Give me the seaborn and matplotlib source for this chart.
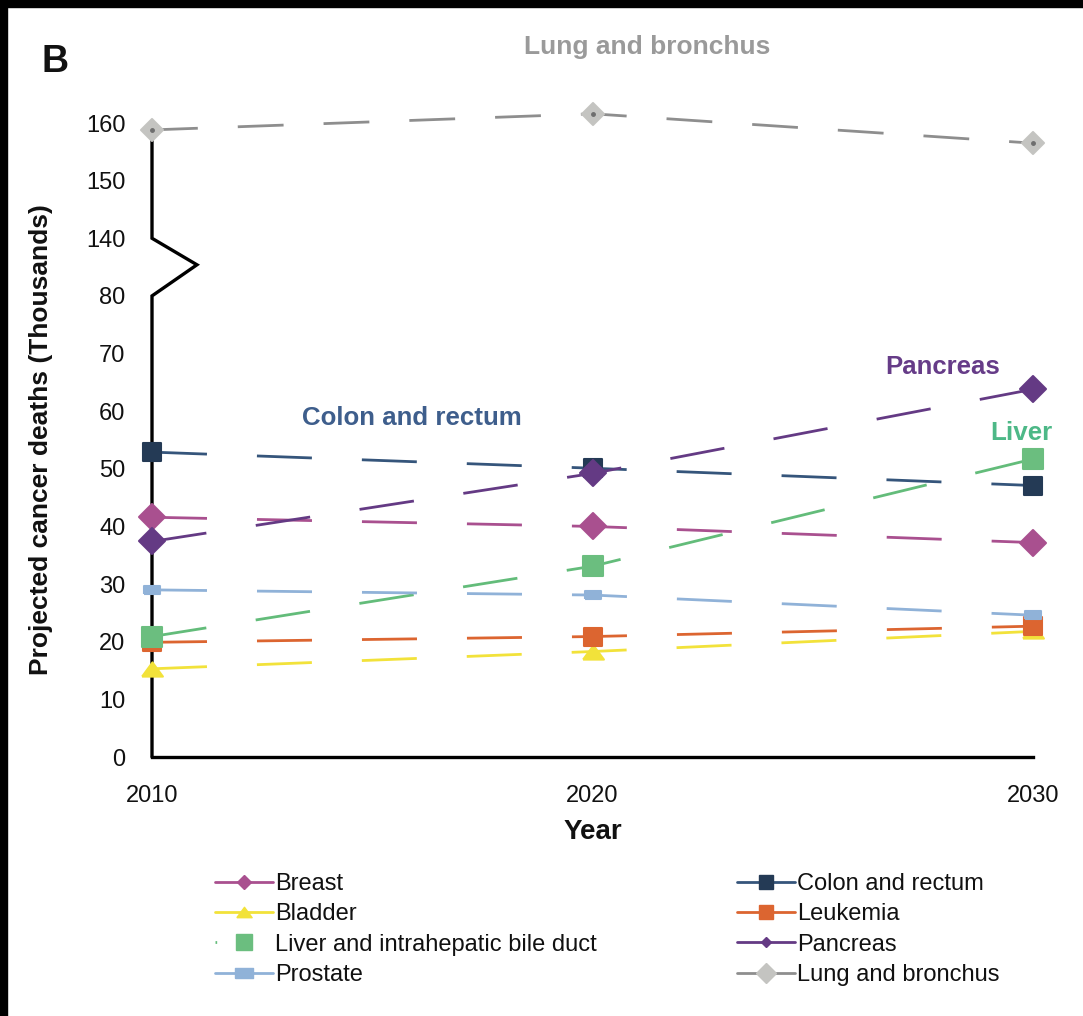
import numpy as np
import pandas as pd
import matplotlib
matplotlib.use("Agg")
import matplotlib.pyplot as plt
import seaborn as sns
from matplotlib.lines import Line2D
from matplotlib.markers import MarkerStyle
from matplotlib.patches import Rectangle
from matplotlib.ticker import FixedLocator, FixedFormatter, NullLocator

# Projected cancer deaths (thousands) by year
years = [2010, 2020, 2030]
breast = [41.6, 40.0, 37.2]
colon = [52.9, 50.1, 47.1]
bladder = [15.3, 18.3, 21.8]
leukemia = [19.9, 20.9, 22.7]
liver = [20.9, 33.1, 51.7]
pancreas = [37.4, 49.2, 63.8]
prostate = [29.0, 28.1, 24.6]
lung = [158.8, 161.6, 156.5]

sites = ["Breast", "Colon and rectum", "Bladder", "Leukemia",
         "Liver and intrahepatic bile duct", "Pancreas", "Prostate",
         "Lung and bronchus"]
values = [breast, colon, bladder, leukemia, liver, pancreas, prostate, lung]

y_ticks = [0, 10, 20, 30, 40, 50, 60, 70, 80, 140, 150, 160]
x_ticks = [2010, 2020, 2030]

sns.set_style("white")
plt.rcParams["font.family"] = ["Liberation Sans", "DejaVu Sans"]
plt.rcParams["lines.scale_dashes"] = False

W, H = 1083, 1016
fig = plt.figure(figsize=(W / 100, H / 100), dpi=100, facecolor="white")


def fx(px):
    return px / W


def fy(py):
    return 1 - py / H


ax = fig.add_axes([fx(152), fy(757), fx(1033) - fx(152), fy(123) - fy(757)])
ax.set_facecolor("none")


# broken y axis: 80..140 squeezed into one tick step
def fwd(v):
    v = np.asarray(v, dtype=float)
    return np.where(v <= 80, v, np.where(v >= 140, v - 50, 80 + (v - 80) / 6))


def inv(t):
    t = np.asarray(t, dtype=float)
    return np.where(t <= 80, t, np.where(t >= 90, t + 50, 80 + (t - 80) * 6))


ax.set_yscale("function", functions=(fwd, inv))

df = pd.DataFrame(
    [(s, yr, v) for s, vals in zip(sites, values) for yr, v in zip(years, vals)],
    columns=["site", "year", "deaths"],
)

prostate_mk = MarkerStyle([(-1, -0.5), (1, -0.5), (1, 0.5), (-1, 0.5), (-1, -0.5)],
                          joinstyle="round")
tri_mk = MarkerStyle([(-1, -0.68), (1, -0.68), (0, 0.68), (-1, -0.68)], joinstyle="round")

styles = {
    "Breast": dict(line="#A9508F", face="#A9508F", marker="D", ms=13.5),
    "Colon and rectum": dict(line="#35557B", face="#243A55", marker="s", ms=13.5),
    "Bladder": dict(line="#F2E23A", face="#F2E23A", marker=tri_mk, ms=15.0),
    "Leukemia": dict(line="#DC6530", face="#DC6530", marker="s", ms=12.5),
    "Liver and intrahepatic bile duct": dict(line="#63BC7A", face="#6BBE7F", marker="s", ms=14.5),
    "Pancreas": dict(line="#643A84", face="#643A84", marker="D", ms=13.5),
    "Prostate": dict(line="#90B2D8", face="#90B2D8", marker=prostate_mk, ms=11.0),
    "Lung and bronchus": dict(line="#8E8E8E", face="#C4C4C1", marker="D", ms=11.0),
}

for i, site in enumerate(sites):
    st = styles[site]
    dash = (0, (33, 28.8)) if site == "Lung and bronchus" else (0, (39.6, 36))
    mk = st["marker"]
    if isinstance(mk, str):
        mk = MarkerStyle(mk, joinstyle="round")
    sns.lineplot(data=df[df["site"] == site], x="year", y="deaths", ax=ax,
                 color=st["line"], linewidth=2.0, linestyle=dash,
                 marker=mk, markersize=st["ms"], markerfacecolor=st["face"],
                 markeredgecolor=st["face"], markeredgewidth=1.5,
                 clip_on=False, zorder=3 + i)

# small dark centre dot on the lung markers
ax.plot(years, lung, linestyle="none", marker="o", markersize=2.5,
        color="#6E6E6E", clip_on=False, zorder=20)

ax.set_xlim(2010, 2030)
ax.set_ylim(0, 160)
ax.yaxis.set_major_locator(FixedLocator(y_ticks))
ax.yaxis.set_major_formatter(FixedFormatter([str(t) for t in y_ticks]))
ax.yaxis.set_minor_locator(NullLocator())
ax.xaxis.set_major_locator(FixedLocator(x_ticks))
ax.tick_params(axis="both", length=0, labelsize=17, colors="#111111")
ax.tick_params(axis="y", pad=19)
ax.tick_params(axis="x", pad=20)

for side in ["top", "right", "left"]:
    ax.spines[side].set_visible(False)
ax.spines["bottom"].set_color("black")
ax.spines["bottom"].set_linewidth(2.4)
ax.spines["bottom"].set_zorder(2)

# left axis with the zigzag break
ax.plot([0, 0, 0.051, 0, 0], [0, 80, 112.4, 140, 160],
        transform=ax.get_yaxis_transform(), color="black", lw=2.4,
        solid_joinstyle="miter", clip_on=False, zorder=2)

ax.set_xlabel("Year", fontsize=20, fontweight="bold", labelpad=9, color="#111111")
ax.set_ylabel("Projected cancer deaths (Thousands)", fontsize=19, fontweight="bold",
              labelpad=24, color="#111111")

# series labels
fig.text(fx(647), fy(47), "Lung and bronchus", ha="center", va="center",
         fontsize=19, fontweight="bold", color="#9A9A9A")
fig.text(fx(412), fy(418), "Colon and rectum", ha="center", va="center",
         fontsize=18.6, fontweight="bold", color="#3E5E8C")
fig.text(fx(943), fy(367), "Pancreas", ha="center", va="center",
         fontsize=18.5, fontweight="bold", color="#663C88")
fig.text(fx(1021), fy(433), "Liver", ha="center", va="center",
         fontsize=18.7, fontweight="bold", color="#4DB887")
fig.text(fx(55), fy(62), "B", ha="center", va="center",
         fontsize=27, fontweight="bold", color="#111111")


# legend
def handle(site, ms, marker=None, ls="-"):
    st = styles[site]
    mk = marker if marker is not None else st["marker"]
    return Line2D([], [], color=st["line"], lw=2.0, linestyle=ls, marker=mk,
                  markersize=ms, markerfacecolor=st["face"],
                  markeredgecolor=st["face"], markeredgewidth=1.0)


left_items = [
    ("Breast", handle("Breast", 7.0)),
    ("Bladder", handle("Bladder", 11.0)),
    ("Liver and intrahepatic bile duct",
     handle("Liver and intrahepatic bile duct", 11.5, ls=(0, (1.2, 200)))),
    ("Prostate", handle("Prostate", 13.0)),
]
right_items = [
    ("Colon and rectum", handle("Colon and rectum", 9.5)),
    ("Leukemia", handle("Leukemia", 9.5)),
    ("Pancreas", handle("Pancreas", 5.5)),
    ("Lung and bronchus", handle("Lung and bronchus", 10.0)),
]

legend_kw = dict(frameon=False, loc="upper left", bbox_transform=fig.transFigure,
                 fontsize=17, handlelength=2.45, handletextpad=0.1,
                 labelspacing=0.35, borderpad=0, borderaxespad=0)
leg1 = ax.legend([h for _, h in left_items], [t for t, _ in left_items],
                 bbox_to_anchor=(fx(215), fy(873)), **legend_kw)
ax.add_artist(leg1)
leg2 = ax.legend([h for _, h in right_items], [t for t, _ in right_items],
                 bbox_to_anchor=(fx(737), fy(873)), **legend_kw)
for lg in (leg1, leg2):
    for txt in lg.get_texts():
        txt.set_color("#111111")

# dark slide edge along the top and left
fig.patches.append(Rectangle((0, fy(7)), 1, 1 - fy(7), transform=fig.transFigure,
                             color="black", zorder=0))
fig.patches.append(Rectangle((0, 0), fx(7), 1, transform=fig.transFigure,
                             color="black", zorder=0))

fig.savefig("out.png", dpi=100, facecolor="white")
